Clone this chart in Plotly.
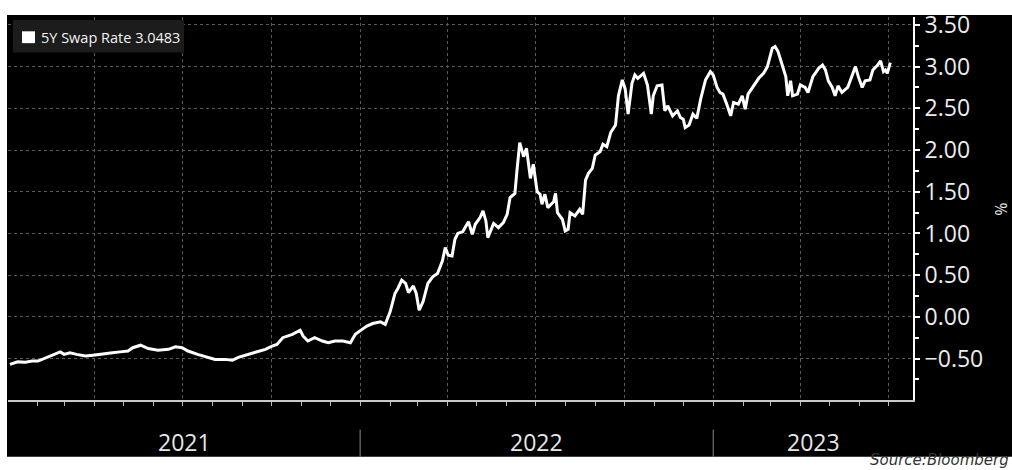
import plotly.graph_objects as go
import pandas as pd

series_name = "5Y Swap Rate"
source_text = "Source:Bloomberg"
unit_label = "%"
year_labels = ["2021", "2022", "2023"]

dates = [
    # 2021
    "2021-01-04", "2021-01-12", "2021-01-20", "2021-01-27", "2021-02-02", "2021-02-11",
    "2021-02-18", "2021-02-25", "2021-03-01", "2021-03-07", "2021-03-14", "2021-03-23",
    "2021-03-31", "2021-04-09", "2021-04-20", "2021-04-28", "2021-05-06", "2021-05-11",
    "2021-05-19", "2021-05-27", "2021-06-06", "2021-06-17", "2021-06-24", "2021-07-01",
    "2021-07-07", "2021-07-17", "2021-07-25", "2021-08-04", "2021-08-14", "2021-08-22",
    "2021-08-28", "2021-09-07", "2021-09-18", "2021-09-25", "2021-10-02", "2021-10-07",
    "2021-10-13", "2021-10-23", "2021-10-31", "2021-11-03", "2021-11-08", "2021-11-15",
    "2021-11-23", "2021-11-29", "2021-12-06", "2021-12-14", "2021-12-22", "2021-12-27",
    # 2022
    "2022-01-03", "2022-01-08", "2022-01-14", "2022-01-22", "2022-01-27", "2022-02-01",
    "2022-02-06", "2022-02-09", "2022-02-13", "2022-02-17", "2022-02-20", "2022-02-25",
    "2022-02-28", "2022-03-03", "2022-03-07", "2022-03-12", "2022-03-17", "2022-03-22",
    "2022-03-27", "2022-03-30", "2022-04-02", "2022-04-06", "2022-04-09", "2022-04-12",
    "2022-04-17", "2022-04-23", "2022-04-27", "2022-04-30", "2022-05-05", "2022-05-08",
    "2022-05-11", "2022-05-13", "2022-05-19", "2022-05-24", "2022-05-29", "2022-06-02",
    "2022-06-05", "2022-06-10", "2022-06-12", "2022-06-15", "2022-06-19", "2022-06-22",
    "2022-06-26", "2022-06-29", "2022-07-03", "2022-07-06", "2022-07-08", "2022-07-11",
    "2022-07-14", "2022-07-20", "2022-07-22", "2022-07-24", "2022-07-29", "2022-08-01",
    "2022-08-04", "2022-08-06", "2022-08-11", "2022-08-16", "2022-08-19", "2022-08-22",
    "2022-08-25", "2022-08-29", "2022-09-01", "2022-09-06", "2022-09-09", "2022-09-13",
    "2022-09-17", "2022-09-22", "2022-09-25", "2022-09-29", "2022-10-02", "2022-10-05",
    "2022-10-09", "2022-10-12", "2022-10-15", "2022-10-21", "2022-10-25", "2022-10-29",
    "2022-10-31", "2022-11-04", "2022-11-09", "2022-11-12", "2022-11-15", "2022-11-20",
    "2022-11-25", "2022-11-28", "2022-12-01", "2022-12-03", "2022-12-07", "2022-12-11",
    "2022-12-15", "2022-12-19", "2022-12-24", "2022-12-29",
    # 2023
    "2023-01-01", "2023-01-05", "2023-01-08", "2023-01-11", "2023-01-15", "2023-01-19",
    "2023-01-22", "2023-01-27", "2023-01-31", "2023-02-03", "2023-02-06", "2023-02-11",
    "2023-02-17", "2023-02-22", "2023-02-26", "2023-03-03", "2023-03-06", "2023-03-09",
    "2023-03-13", "2023-03-17", "2023-03-19", "2023-03-22", "2023-03-24", "2023-03-29",
    "2023-04-01", "2023-04-06", "2023-04-09", "2023-04-14", "2023-04-20", "2023-04-24",
    "2023-04-27", "2023-04-30", "2023-05-04", "2023-05-07", "2023-05-10", "2023-05-14",
    "2023-05-20", "2023-05-25", "2023-05-28", "2023-05-31", "2023-06-04", "2023-06-07",
    "2023-06-12", "2023-06-15", "2023-06-20", "2023-06-23", "2023-06-26", "2023-06-28",
    "2023-06-30", "2023-07-03",
]

rates = [
    # 2021
    -0.57, -0.54, -0.545, -0.53, -0.53, -0.485,
    -0.45, -0.42, -0.45, -0.43, -0.45, -0.47,
    -0.46, -0.45, -0.43, -0.42, -0.41, -0.37,
    -0.34, -0.38, -0.40, -0.39, -0.36, -0.37,
    -0.41, -0.45, -0.475, -0.51, -0.51, -0.52,
    -0.485, -0.45, -0.41, -0.39, -0.35, -0.33,
    -0.25, -0.21, -0.16, -0.23, -0.29, -0.25,
    -0.29, -0.31, -0.29, -0.29, -0.31, -0.21,
    # 2022
    -0.15, -0.11, -0.08, -0.06, -0.09, 0.06,
    0.28, 0.34, 0.44, 0.40, 0.29, 0.37,
    0.28, 0.08, 0.18, 0.40, 0.48, 0.52,
    0.67, 0.83, 0.74, 0.73, 0.93, 1.00,
    1.02, 1.14, 0.99, 1.11, 1.19, 1.27,
    1.15, 0.95, 1.12, 1.07, 1.13, 1.23,
    1.43, 1.48, 1.74, 2.09, 1.92, 2.02,
    1.66, 1.83, 1.50, 1.47, 1.35, 1.47,
    1.31, 1.38, 1.48, 1.25, 1.17, 1.03,
    1.05, 1.25, 1.21, 1.29, 1.23, 1.64,
    1.72, 1.78, 1.94, 1.98, 2.07, 2.04,
    2.21, 2.30, 2.65, 2.84, 2.73, 2.43,
    2.80, 2.90, 2.86, 2.92, 2.78, 2.43,
    2.65, 2.77, 2.78, 2.47, 2.53, 2.41,
    2.47, 2.39, 2.37, 2.27, 2.30, 2.43,
    2.38, 2.61, 2.84, 2.94,
    # 2023
    2.90, 2.75, 2.69, 2.67, 2.55, 2.41,
    2.57, 2.55, 2.65, 2.49, 2.67, 2.75,
    2.86, 2.92, 3.00, 3.22, 3.24, 3.18,
    3.04, 2.88, 2.65, 2.83, 2.65, 2.67,
    2.78, 2.75, 2.69, 2.88, 2.98, 3.02,
    2.96, 2.83, 2.75, 2.65, 2.77, 2.69,
    2.75, 2.92, 3.00, 2.88, 2.75, 2.83,
    2.84, 2.96, 3.02, 3.07, 2.94, 2.96,
    2.92, 3.0483,
]

# ---- layout geometry (pixels) ----
W, H = 1012, 470
ML, MR, MT, MB = 8, 99, 12, 70
PW, PH = W - ML - MR, H - MT - MB


def px(x):
    return (x - ML) / PW


def py(y):
    return (H - MB - y) / PH


x_range = ["2021-01-02", "2023-07-26 12:00"]
y_range = [-0.997, 3.595]

fig = go.Figure()
fig.add_trace(go.Scatter(
    x=dates, y=rates, mode="lines",
    line=dict(color="white", width=3),
    name=series_name, showlegend=False,
))

shapes = [
    # black chart panel
    dict(type="rect", xref="paper", yref="paper", x0=px(7), x1=px(1040),
         y0=py(457.5), y1=py(10), fillcolor="black", line_width=0, layer="below"),
    # legend box
    dict(type="rect", xref="paper", yref="paper", x0=px(13), x1=px(184),
         y0=py(48), y1=py(15), fillcolor="#1c1c1c", line_width=0, layer="above"),
    dict(type="rect", xref="paper", yref="paper", x0=px(22), x1=px(35),
         y0=py(38.5), y1=py(26.5), fillcolor="white", line_width=0, layer="above"),
]

# year labels and separators below the axis
rng0, rng1 = pd.Timestamp(x_range[0]), pd.Timestamp(x_range[1])
annotations = []
for yl in year_labels:
    ys = max(pd.Timestamp(f"{yl}-01-01"), rng0)
    ye = min(pd.Timestamp(f"{int(yl) + 1}-01-01"), rng1)
    mid = ys + (ye - ys) / 2
    annotations.append(dict(
        x=mid, y=py(443), xref="x", yref="paper", text=yl, showarrow=False,
        xanchor="center", yanchor="middle",
        font=dict(family="Open Sans", size=23, color="#e6e6e6"),
    ))
    if int(yl) > int(year_labels[0]):
        shapes.append(dict(type="line", xref="x", yref="paper",
                           x0=f"{yl}-01-01", x1=f"{yl}-01-01",
                           y0=py(457.5), y1=py(430),
                           line=dict(color="#8a8a8a", width=1)))

annotations.append(dict(
    x=px(39), y=py(32.5), xref="paper", yref="paper",
    text=f"{series_name} {rates[-1]:.4f}", showarrow=False,
    xanchor="left", yanchor="middle",
    font=dict(family="Open Sans", size=14.5, color="#f2f2f2"),
))
annotations.append(dict(
    x=px(1001), y=py(207), xref="paper", yref="paper", text=unit_label,
    showarrow=False, textangle=90, xanchor="center", yanchor="middle",
    font=dict(family="Open Sans", size=16, color="#e6e6e6"),
))
annotations.append(dict(
    x=px(868), y=py(472), xref="paper", yref="paper", text=source_text,
    showarrow=False, xanchor="left", yanchor="bottom",
    font=dict(family="DejaVu Sans", size=15, color="#333333", style="italic"),
))

fig.update_layout(
    width=W, height=H,
    margin=dict(l=ML, r=MR, t=MT, b=MB, pad=0),
    paper_bgcolor="white", plot_bgcolor="black",
    showlegend=False,
    shapes=shapes, annotations=annotations,
    xaxis=dict(
        type="date", range=x_range,
        showticklabels=False,
        tick0="2021-01-01", dtick="M3",
        ticks="outside", ticklen=4, tickcolor="#bdbdbd", tickwidth=1,
        showgrid=True, gridcolor="#5a5a5a", griddash="dot", gridwidth=1,
        minor=dict(dtick="M1", tick0="2021-01-01", ticks="outside", ticklen=4,
                   tickcolor="#bdbdbd", showgrid=False),
        showline=True, linecolor="#c8c8c8", linewidth=2,
        zeroline=False, fixedrange=True,
    ),
    yaxis=dict(
        side="right", range=y_range,
        tick0=0, dtick=0.5, tickformat=".2f",
        ticks="outside", ticklen=5, tickcolor="white", tickwidth=1.5,
        tickfont=dict(family="Open Sans", size=23, color="#ececec"),
        showgrid=True, gridcolor="#5a5a5a", griddash="dot", gridwidth=1,
        minor=dict(dtick=0.25, ticks="outside", ticklen=4, tickcolor="white",
                   showgrid=False),
        showline=True, linecolor="white", linewidth=2,
        zeroline=False, fixedrange=True,
    ),
)

fig.write_html(
    "out.html",
    config={"displayModeBar": False},
    post_script="document.body.style.margin='0';"
                "document.body.style.overflow='hidden';",
)
